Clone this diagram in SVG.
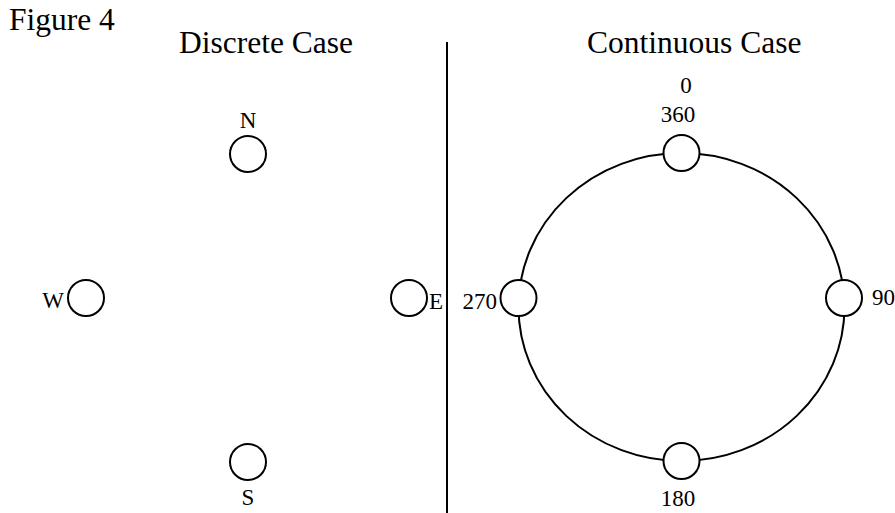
<svg xmlns="http://www.w3.org/2000/svg" width="895" height="513" viewBox="0 0 895 513">
<style>
text{font-family:"Liberation Serif","Times New Roman",serif;fill:#000}
.t{font-size:31.5px}
.l{font-size:23px}
.n{fill:#fff;stroke:#000;stroke-width:2}
</style>
<rect width="895" height="513" fill="#fff"/>
<text class="t" x="9" y="30">Figure 4</text>
<text class="t" x="179" y="53">Discrete Case</text>
<text class="t" x="587" y="53">Continuous Case</text>
<g id="connectors">
<line x1="447" y1="42" x2="447" y2="513" stroke="#000" stroke-width="2"/>
<ellipse cx="681.5" cy="307" rx="163" ry="154" fill="none" stroke="#000" stroke-width="2"/>
</g>
<g id="N"><circle class="n" cx="248" cy="154" r="18"/><text class="l" x="248" y="128" text-anchor="middle">N</text></g>
<g id="W"><circle class="n" cx="86" cy="298" r="18"/><text class="l" x="64" y="308" text-anchor="end">W</text></g>
<g id="E"><circle class="n" cx="409" cy="298" r="18"/><text class="l" x="429" y="309">E</text></g>
<g id="S"><circle class="n" cx="248" cy="462" r="18"/><text class="l" x="248" y="505" text-anchor="middle">S</text></g>
<g id="n0"><circle class="n" cx="681.5" cy="153" r="18"/><text class="l" x="686" y="93" text-anchor="middle">0</text><text class="l" x="678" y="122" text-anchor="middle">360</text></g>
<g id="n90"><circle class="n" cx="844" cy="298" r="18"/><text class="l" x="872" y="305">90</text></g>
<g id="n180"><circle class="n" cx="681.5" cy="461" r="18"/><text class="l" x="678" y="506" text-anchor="middle">180</text></g>
<g id="n270"><circle class="n" cx="518.5" cy="298" r="18"/><text class="l" x="497" y="309" text-anchor="end">270</text></g>
</svg>
